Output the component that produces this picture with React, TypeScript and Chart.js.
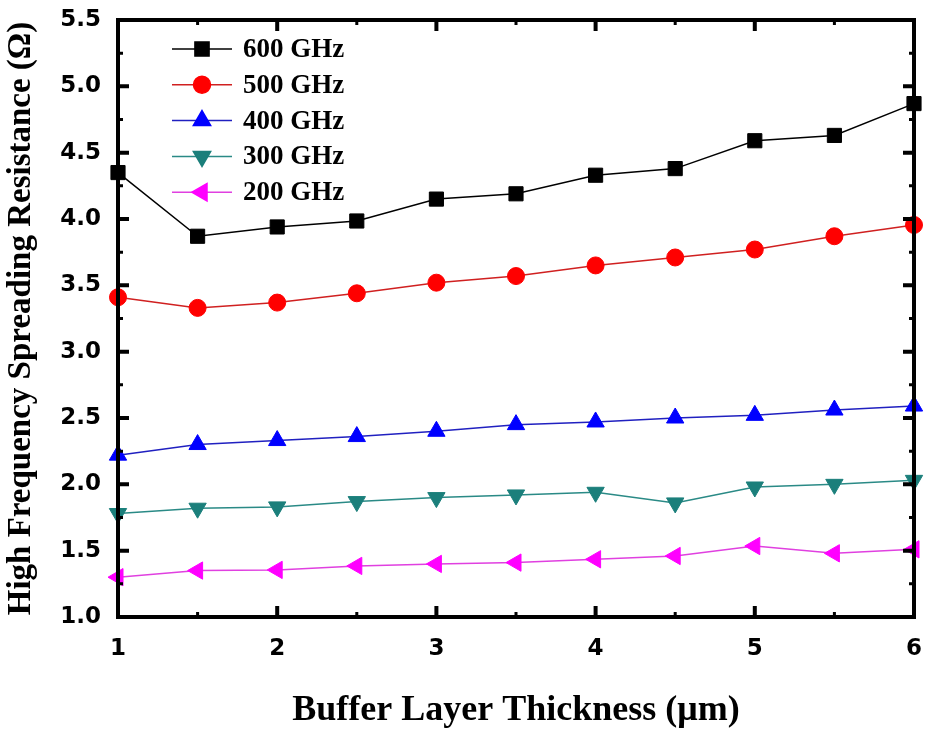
import React, { useEffect, useRef } from 'react';
import { Chart, registerables } from 'chart.js';
import { drawPoint } from 'chart.js/helpers';

Chart.register(...registerables);

const thickness = [1, 1.5, 2, 2.5, 3, 3.5, 4, 4.5, 5, 5.5, 6];
const r600 = [4.35, 3.87, 3.94, 3.985, 4.15, 4.19, 4.33, 4.38, 4.59, 4.63, 4.87];
const r500 = [3.41, 3.33, 3.37, 3.44, 3.52, 3.57, 3.65, 3.71, 3.77, 3.87, 3.955];
const r400 = [2.22, 2.30, 2.33, 2.36, 2.40, 2.45, 2.47, 2.50, 2.52, 2.56, 2.59];
const r300 = [1.78, 1.82, 1.83, 1.87, 1.90, 1.92, 1.94, 1.86, 1.98, 2.00, 2.03];
const r200 = [1.30, 1.35, 1.355, 1.385, 1.40, 1.41, 1.435, 1.46, 1.535, 1.48, 1.51];

const seriesValues = [r600, r500, r400, r300, r200];
const seriesLabels = ['600 GHz', '500 GHz', '400 GHz', '300 GHz', '200 GHz'];
const seriesColors = ['#000000', '#ff0000', '#0000ff', '#1b7f7b', '#ff00ff'];
const lineColors = ['#000000', '#d02020', '#2020c0', '#2a8a86', '#e040e0'];
const pointStyles = ['rect', 'circle', 'triangle', 'triangle', 'triangle'];
const pointRotations = [0, 0, 0, 180, 270];
const pointRadii = [10, 8.5, 10, 10, 10];

const xMin = 1, xMax = 6, xStep = 1;
const yMin = 1.0, yMax = 5.5, yStep = 0.5;

const yTitle = 'High Frequency Spreading Resistance (Ω)';
const xTitle = 'Buffer Layer Thickness (μm)';

const framePlugin = {
  id: 'frame',
  afterDatasetsDraw(chart: any) {
    const { ctx, chartArea: ca } = chart;
    const xs = chart.scales.x;
    const ys = chart.scales.y;
    ctx.save();
    ctx.strokeStyle = '#000';
    ctx.lineCap = 'butt';
    for (let v = xMin; v <= xMax + 1e-9; v += xStep / 2) {
      const major = Math.abs(v - Math.round(v)) < 1e-9;
      const len = major ? 11 : 5;
      ctx.lineWidth = major ? 4 : 3;
      const px = xs.getPixelForValue(v);
      ctx.beginPath();
      ctx.moveTo(px, ca.bottom);
      ctx.lineTo(px, ca.bottom - len);
      ctx.moveTo(px, ca.top);
      ctx.lineTo(px, ca.top + len);
      ctx.stroke();
    }
    for (let v = yMin; v <= yMax + 1e-9; v += yStep / 2) {
      const k = (v - yMin) / yStep;
      const major = Math.abs(k - Math.round(k)) < 1e-9;
      const len = major ? 11 : 5;
      ctx.lineWidth = major ? 4 : 3;
      const py = ys.getPixelForValue(v);
      ctx.beginPath();
      ctx.moveTo(ca.left, py);
      ctx.lineTo(ca.left + len, py);
      ctx.moveTo(ca.right, py);
      ctx.lineTo(ca.right - len, py);
      ctx.stroke();
    }
    ctx.lineWidth = 4;
    ctx.strokeRect(ca.left, ca.top, ca.right - ca.left, ca.bottom - ca.top);
    ctx.restore();
  },
};

const legendPlugin = {
  id: 'innerLegend',
  afterDraw(chart: any) {
    const { ctx, chartArea: ca } = chart;
    ctx.save();
    const x0 = ca.left + 54;
    const x1 = ca.left + 114;
    const xm = (x0 + x1) / 2;
    for (let i = 0; i < seriesLabels.length; i++) {
      const y = ca.top + 29 + i * 35.8;
      ctx.strokeStyle = lineColors[i];
      ctx.lineWidth = 1.5;
      ctx.beginPath();
      ctx.moveTo(x0, y);
      ctx.lineTo(x1, y);
      ctx.stroke();
      ctx.fillStyle = seriesColors[i];
      ctx.strokeStyle = seriesColors[i];
      drawPoint(ctx, {
        pointStyle: pointStyles[i],
        rotation: pointRotations[i],
        radius: pointRadii[i],
        borderWidth: 1,
      } as any, xm, y);
      ctx.fillStyle = '#000';
      ctx.font = 'bold 27px "Liberation Serif", serif';
      ctx.textAlign = 'left';
      ctx.textBaseline = 'middle';
      ctx.fillText(seriesLabels[i], x1 + 11, y + 1);
    }
    ctx.restore();
  },
};

const zeroPad = (s: any) => {
  s.paddingTop = 0;
  s.paddingBottom = 0;
  s.paddingLeft = 0;
  s.paddingRight = 0;
};

export default function App() {
  const ref = useRef<HTMLCanvasElement | null>(null);
  useEffect(() => {
    document.body.style.margin = '0';
    const canvas = ref.current;
    if (!canvas) return;
    const datasets = seriesValues.map((vals, i) => ({
      label: seriesLabels[i],
      data: thickness.map((x, j) => ({ x, y: vals[j] })),
      borderColor: lineColors[i],
      backgroundColor: seriesColors[i],
      pointBackgroundColor: seriesColors[i],
      pointBorderColor: seriesColors[i],
      pointStyle: pointStyles[i] as any,
      rotation: pointRotations[i],
      pointRadius: pointRadii[i],
      pointBorderWidth: 1,
      borderWidth: 1.5,
      tension: 0,
      clip: false as any,
    }));
    const chart = new Chart(canvas, {
      type: 'line',
      data: { datasets },
      options: {
        animation: false,
        responsive: false,
        devicePixelRatio: 1,
        layout: { padding: { top: 20, right: 7, left: 0, bottom: 0 } },
        plugins: { legend: { display: false }, tooltip: { enabled: false } },
        scales: {
          x: {
            type: 'linear',
            min: xMin,
            max: xMax,
            grid: { display: false, drawTicks: false },
            border: { display: false },
            ticks: {
              stepSize: xStep,
              padding: 18,
              color: '#000',
              font: { family: '"DejaVu Sans", sans-serif', weight: 'bold', size: 23 },
              callback: (v: any) => String(v),
            },
            title: {
              display: true,
              text: xTitle,
              color: '#000',
              font: { family: '"Liberation Serif", serif', weight: 'bold', size: 36 },
              padding: { top: 0, bottom: 0 },
            },
            afterFit: (s: any) => { s.height = 115; zeroPad(s); },
          },
          y: {
            type: 'linear',
            min: yMin,
            max: yMax,
            grid: { display: false, drawTicks: false },
            border: { display: false },
            ticks: {
              stepSize: yStep,
              padding: 17,
              color: '#000',
              font: { family: '"DejaVu Sans", sans-serif', weight: 'bold', size: 23 },
              callback: (v: any) => Number(v).toFixed(1),
            },
            title: {
              display: true,
              text: yTitle,
              color: '#000',
              font: { family: '"Liberation Serif", serif', weight: 'bold', size: 33 },
              padding: { top: 2, bottom: 0 },
            },
            afterFit: (s: any) => { s.width = 118; zeroPad(s); },
          },
        },
      },
      plugins: [framePlugin, legendPlugin],
    });
    return () => chart.destroy();
  }, []);
  return (
    <div style={{ width: 925, height: 732, background: '#fff' }}>
      <canvas ref={ref} width={925} height={732} style={{ display: 'block' }} />
    </div>
  );
}
